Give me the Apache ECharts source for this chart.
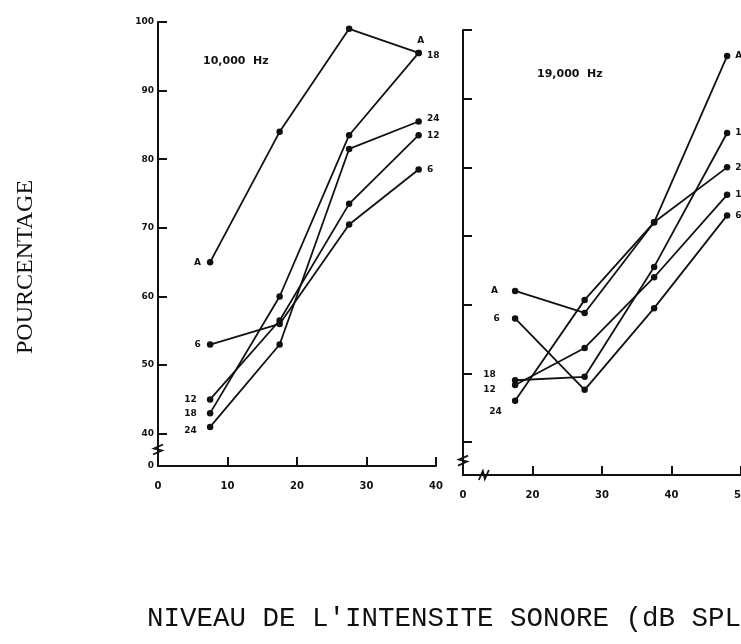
<!DOCTYPE html>
<html><head><meta charset="utf-8">
<script src="https://cdn.jsdelivr.net/npm/echarts@6/dist/echarts.min.js"></script>
<style>html,body{margin:0;padding:0;background:#fff}#c{width:741px;height:644px}</style>
</head><body><div id="c"></div>
<script>
// ---- data ----
const seriesNames = ['A', '6', '12', '18', '24'];
const xLeft = [7.5, 17.5, 27.5, 37.5];
const left_A  = [65, 84, 99, 95.5];
const left_6  = [53, 56, 70.5, 78.5];
const left_12 = [45, 56.5, 73.5, 83.5];
const left_18 = [43, 60, 83.5, 95.5];
const left_24 = [41, 53, 81.5, 85.5];
const xRight = [17.5, 27.5, 37.5, 48];
const right_A  = [62, 58.8, 72, 96.2];
const right_6  = [58, 47.6, 59.5, 73];
const right_12 = [48.3, 53.7, 64, 76];
const right_18 = [49, 49.5, 65.5, 85];
const right_24 = [46, 60.7, 72, 80];
const yTickValues = [40, 50, 60, 70, 80, 90, 100];
const xLabelsLeft = [0, 10, 20, 30, 40];
const xTicksLeft = [10, 20, 30, 40];
const xLabelsRight = [10, 20, 30, 40, 50];
const xTicksRight = [20, 30, 40, 50];
const panelTitles = ['10,000  Hz', '19,000  Hz'];
const yAxisTitle = 'POURCENTAGE';
const xAxisTitle = "NIVEAU DE L'INTENSITE SONORE (dB SPL)";

// ---- chart ----
const INK = '#111';
const chart = echarts.init(document.getElementById('c'), null, {renderer: 'canvas'});
const lblFont = {color: INK, fontSize: 9, fontWeight: 'bold', fontFamily: 'DejaVu Sans'};

function build(xs, ys, name, g, startOpt, endOpt) {
  const data = xs.map((x, i) => {
    const d = {value: [x, ys[i]]};
    if (i === 0) d.label = Object.assign({show: true, formatter: name, position: 'left', distance: 6}, lblFont, startOpt || {});
    if (i === xs.length - 1) d.label = Object.assign({show: true, formatter: name, position: 'right', distance: 5}, lblFont, endOpt || {});
    return d;
  });
  return {
    type: 'line', name: name + '_' + g, xAxisIndex: g, yAxisIndex: g, data,
    symbol: 'circle', symbolSize: 6.5, showSymbol: true,
    lineStyle: {color: INK, width: 1.8}, itemStyle: {color: INK},
    label: {show: false}, animation: false, silent: true, z: 3
  };
}

function xAxisDef(g, min, max, labels, ticks, fmt) {
  return {
    type: 'value', gridIndex: g, min, max,
    axisLine: {show: true, onZero: false, lineStyle: {color: INK, width: 2}},
    axisTick: {show: true, inside: true, length: 9, customValues: ticks, lineStyle: {color: INK, width: 2}},
    axisLabel: {show: true, customValues: labels, margin: 15, formatter: fmt, color: INK, fontSize: 10, fontWeight: 'bold', fontFamily: 'DejaVu Sans'},
    splitLine: {show: false}
  };
}
function yAxisDef(g, min, showLabels) {
  return {
    type: 'value', gridIndex: g, min, max: 100,
    axisLine: {show: true, onZero: false, lineStyle: {color: INK, width: 2}},
    axisTick: {show: true, inside: true, length: 9, customValues: yTickValues, lineStyle: {color: INK, width: 2}},
    axisLabel: {show: showLabels, customValues: [min].concat(yTickValues), margin: 4,
      formatter: v => (v < 38 ? '0' : String(v)), color: INK, fontSize: 9, fontWeight: 'bold', fontFamily: 'DejaVu Sans'},
    splitLine: {show: false}
  };
}

const option = {
  backgroundColor: '#fff',
  animation: false,
  grid: [
    {left: 158, top: 22, width: 278, height: 444, containLabel: false, outerBoundsMode: 'none'},
    {left: 463, top: 30, width: 278, height: 445, containLabel: false, outerBoundsMode: 'none'}
  ],
  xAxis: [
    xAxisDef(0, 0, 40, xLabelsLeft, xTicksLeft, v => String(v)),
    xAxisDef(1, 10, 50, xLabelsRight, xTicksRight, v => (v === 10 ? '0' : String(v)))
  ],
  yAxis: [yAxisDef(0, 35.3, true), yAxisDef(1, 35.2, false)],
  series: [
    build(xLeft, left_A, seriesNames[0], 0, {}, {position: 'top', distance: 4, offset: [2, 0]}),
    build(xLeft, left_6, seriesNames[1], 0, {}, {}),
    build(xLeft, left_12, seriesNames[2], 0, {offset: [-4, 0]}, {}),
    build(xLeft, left_18, seriesNames[3], 0, {offset: [-4, 0]}, {offset: [0, 3]}),
    build(xLeft, left_24, seriesNames[4], 0, {offset: [-4, 4]}, {offset: [0, -3]}),
    build(xRight, right_A, seriesNames[0], 1, {offset: [-8, 0]}, {}),
    build(xRight, right_6, seriesNames[1], 1, {offset: [-6, 0]}, {}),
    build(xRight, right_12, seriesNames[2], 1, {offset: [-10, 5]}, {}),
    build(xRight, right_18, seriesNames[3], 1, {offset: [-10, -6]}, {}),
    build(xRight, right_24, seriesNames[4], 1, {offset: [-4, 11]}, {})
  ],
  graphic: [
    {type: 'text', left: 203, top: 56, style: {text: panelTitles[0], fill: INK, font: 'bold 11px "DejaVu Sans"'}},
    {type: 'text', left: 537, top: 69, style: {text: panelTitles[1], fill: INK, font: 'bold 11px "DejaVu Sans"'}},
    {type: 'text', x: 26, y: 267, rotation: Math.PI / 2,
      style: {text: yAxisTitle, fill: INK, font: '24px "Liberation Serif"', align: 'center', verticalAlign: 'middle'}},
    {type: 'text', x: 147, y: 619,
      style: {text: xAxisTitle, fill: INK, font: '27.5px "Liberation Mono"', align: 'left', verticalAlign: 'middle'}}
  ]
};
chart.setOption(option);

// axis break marks (positions derived from the axes)
function zig(p, vertical) {
  const [x, y] = p;
  const pts = vertical
    ? [[x - 5, y + 5], [x + 4, y + 1], [x - 4, y - 1], [x + 5, y - 5]]
    : [[x - 5, y + 5], [x - 1, y - 4], [x + 1, y + 4], [x + 5, y - 5]];
  return {type: 'polyline', shape: {points: pts}, style: {stroke: INK, lineWidth: 1.8, fill: null}, z: 10};
}
const b1 = chart.convertToPixel({xAxisIndex: 0, yAxisIndex: 0}, [0, 37.7]);
const b2 = chart.convertToPixel({xAxisIndex: 1, yAxisIndex: 1}, [10, 37.3]);
const b3 = chart.convertToPixel({xAxisIndex: 1, yAxisIndex: 1}, [13, 35.2]);
chart.setOption({graphic: option.graphic.concat([zig(b1, true), zig(b2, true), zig(b3, false)])});
</script></body></html>
